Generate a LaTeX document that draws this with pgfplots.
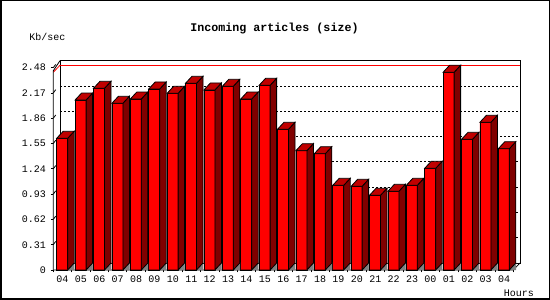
\documentclass[border=0pt]{standalone}
\usepackage{pgfplots}
\pgfplotsset{compat=1.18}
\usepackage{pgfplotstable}
\usetikzlibrary{calc}
\usepackage{fontspec}
\setmainfont{Liberation Mono}
\definecolor{barfront}{HTML}{FF0000}
\definecolor{bartop}{HTML}{C00000}
\definecolor{barside}{HTML}{800000}
\definecolor{floorgray}{HTML}{808080}

\pgfplotstableread{
x v
0.484 1.615
1.484 2.084
2.484 2.228
3.484 2.044
4.484 2.096
5.484 2.219
6.484 2.166
7.484 2.289
8.484 2.207
9.484 2.252
10.484 2.096
11.484 2.264
12.484 1.725
13.484 1.463
14.484 1.426
15.484 1.038
16.484 1.026
17.484 0.916
18.484 0.965
19.484 1.038
20.484 1.247
21.484 2.424
22.484 1.602
23.484 1.811
24.484 1.487
}\data

\pgfdeclareplotmark{bar3d}{%
  \pgfmathsetmacro\hh{\myv*81.573}%
  \pgfmathsetmacro\hb{7-\hh}%
  \fill[floorgray] (5.5pt,-\hh pt) -- (12pt,\hb pt) -- (12pt,-\hh pt) -- cycle;
  \filldraw[fill=barside,draw=black,line width=0.8pt] (5.5pt,0pt) -- (12pt,7pt) -- (12pt,\hb pt) -- (5.5pt,-\hh pt) -- cycle;
  \filldraw[fill=bartop,draw=black,line width=0.8pt] (-5.5pt,0pt) -- (5.5pt,0pt) -- (12pt,7pt) -- (1pt,7pt) -- cycle;
}

\begin{document}
\begin{tikzpicture}[x=1pt,y=1pt]
\path[use as bounding box] (0,0) rectangle (550,300);
\fill[white] (0,0) rectangle (550,300);
\draw[line width=1.5pt] (0.75,0.75) rectangle (549.4,299.25);

% back plane
\begin{axis}[
  at={(60pt,37pt)}, anchor=south west,
  scale only axis, width=460pt, height=202.3pt,
  xmin=0, xmax=25, ymin=0, ymax=2.48,
  xtick=\empty,
  ytick={0.31,0.62,0.93,1.24,1.55,1.86,2.17},
  yticklabels={},
  major tick length=0pt,
  ymajorgrids,
  grid style={black, line width=0.8pt, dash pattern=on 2pt off 2pt},
  axis line style={black, line width=0.8pt},
  clip=false,
]
\addplot[red, line width=0.8pt, no marks] coordinates {(0,2.424) (25,2.424)};
\end{axis}

% front
\begin{axis}[
  at={(53.3pt,30pt)}, anchor=south west,
  scale only axis, width=460pt, height=202.3pt,
  xmin=0, xmax=25, ymin=0, ymax=2.48,
  clip=false,
  axis line style={draw=none},
  xtick pos=bottom, ytick pos=left,
  tick align=outside,
  xtick={0,1,...,25},
  xticklabels={04,05,06,07,08,09,10,11,12,13,14,15,16,17,18,19,20,21,22,23,00,01,02,03,04,{}},
  xticklabel style={xshift=9.2pt, font=\fontsize{10}{12}\selectfont},
  ytick={0,0.31,0.62,0.93,1.24,1.55,1.86,2.17,2.48},
  yticklabels={0,0.31,0.62,0.93,1.24,1.55,1.86,2.17,2.48},
  yticklabel style={xshift=-1.5pt, font=\fontsize{10}{12}\selectfont},
  /pgf/number format/assume math mode=true,
  x tick style={black, line width=0.8pt},
  y tick style={black, line width=0.8pt},
  major tick length=2.5pt,
]
\addplot[ybar, bar width=11pt, bar shift=0pt, fill=barfront, draw=black, line width=0.8pt] table[x=x,y=v]{\data};
\addplot[scatter, only marks, mark=bar3d, visualization depends on={\thisrow{v}\as\myv}] table[x=x,y=v]{\data};
\addplot[red, line width=0.8pt, no marks] coordinates {(0,2.424) (0.364,2.5098)};
\draw[black, line width=0.8pt] (rel axis cs:0,0) -- (rel axis cs:1,0) -- ++(6.7pt,7pt);
\draw[black, line width=0.8pt] (rel axis cs:0,0) -- (axis cs:0,2.443) -- ($(rel axis cs:0,1)+(6.7pt,7pt)$);
\pgfplotsinvokeforeach{0.31,0.62,0.93,1.24,1.55,1.86,2.17,2.48}{
  \draw[black, line width=0.8pt] (axis cs:0,#1) -- ++(2.4pt,3.3pt);
}
\end{axis}

\node[anchor=base, font=\bfseries\fontsize{11.67}{14}\selectfont] at (274.5,268.3) {Incoming articles (size)};
\node[anchor=base, font=\fontsize{10}{12}\selectfont] at (47.5,259.3) {Kb/sec};
\node[anchor=base, font=\fontsize{10}{12}\selectfont] at (519,3.3) {Hours};
\end{tikzpicture}
\end{document}
